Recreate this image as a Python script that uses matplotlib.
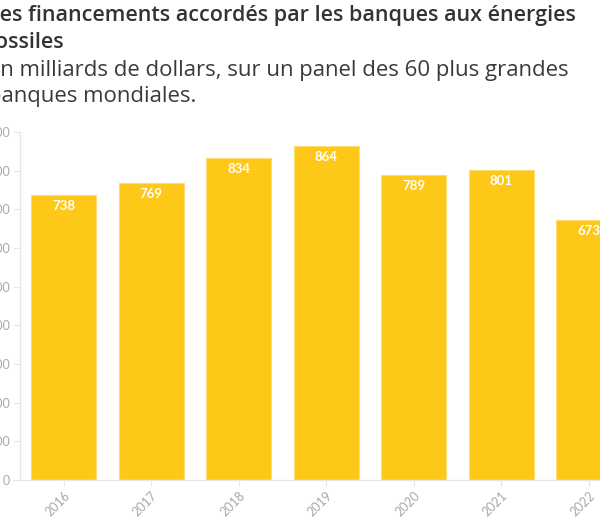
import matplotlib.pyplot as plt

# ─── Data ────────────────────────────────────────────
years = ["2016", "2017", "2018", "2019", "2020", "2021", "2022"]
amounts = [738, 769, 834, 864, 789, 801, 673]
y_ticks = [0, 100, 200, 300, 400, 500, 600, 700, 800, 900]

TITLE = "Les financements accordés par les banques aux énergies\nfossiles"
SUBTITLE = "En milliards de dollars, sur un panel des 60 plus grandes\nbanques mondiales."

BAR_COLOR = "#FEC818"
AXIS_GREY = "#e6e6e6"
TICK_GREY = "#a8a8a8"

W, H = 600, 531
fig = plt.figure(figsize=(W / 100, H / 100), dpi=100)

# axes runs off the right edge like the cropped original
ax = fig.add_axes([20 / W, (H - 480) / H, 612.5 / W, 348 / H])

x = range(len(years))
bars = ax.bar(x, amounts, width=0.74, color=BAR_COLOR,
              edgecolor="#fedc73", linewidth=0.8, zorder=2)

for xi, v in zip(x, amounts):
    ax.annotate(f"{v}", (xi, v), xytext=(0, -8), textcoords="offset points",
                ha="center", va="center", color="white", fontsize=9.5,
                fontweight="bold", family="Lato")

ax.set_xlim(-0.5, len(years) - 0.5)
ax.set_ylim(0, 900)
ax.set_yticks(y_ticks)
ax.set_yticklabels([str(t) for t in y_ticks])
ax.set_xticks(list(x))
ax.set_xticklabels(years, rotation=45, ha="right", rotation_mode="anchor")

for side in ["top", "right"]:
    ax.spines[side].set_visible(False)
for side in ["left", "bottom"]:
    ax.spines[side].set_color(AXIS_GREY)
    ax.spines[side].set_linewidth(1)

ax.tick_params(axis="x", length=4, color=AXIS_GREY, labelcolor=TICK_GREY,
               labelsize=9, pad=3)
ax.tick_params(axis="y", length=5, color=AXIS_GREY, labelcolor=TICK_GREY,
               labelsize=9, pad=2)
for lab in ax.get_xticklabels() + ax.get_yticklabels():
    lab.set_family("Lato")

# title + subtitle, left edge cropped in the original
fig.text(-12 / W, 1 - 5 / H, TITLE, ha="left", va="top", fontsize=15.5,
         fontweight="semibold", color="#333333", family="Open Sans",
         linespacing=1.4)
fig.text(-12 / W, 1 - 60 / H, SUBTITLE, ha="left", va="top", fontsize=15.9,
         color="#3a3a3a", family="Open Sans", linespacing=1.3)

fig.savefig("out.png", dpi=100)
